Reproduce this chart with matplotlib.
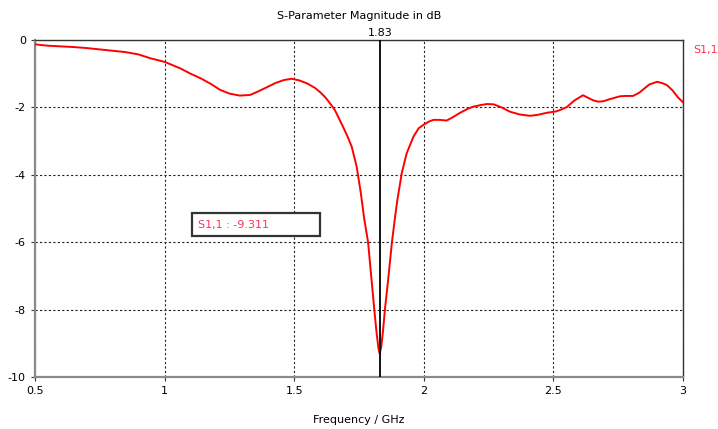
import matplotlib
matplotlib.use("Agg")
import matplotlib.pyplot as plt
from matplotlib.patches import Rectangle

plt.rcParams["axes.unicode_minus"] = False

# S1,1 magnitude
freq = [0.50, 0.55, 0.60, 0.65, 0.70, 0.75, 0.80, 0.85, 0.90, 0.944, 1.00,
        1.06, 1.10, 1.14, 1.18, 1.214, 1.25, 1.29, 1.33, 1.36, 1.395, 1.43,
        1.46, 1.49, 1.52, 1.55, 1.58, 1.60, 1.62, 1.638, 1.657, 1.688, 1.705,
        1.722, 1.741, 1.757, 1.77, 1.785, 1.797, 1.809, 1.818, 1.825, 1.83,
        1.836, 1.843, 1.850, 1.864, 1.877, 1.89, 1.898, 1.915, 1.934, 1.96,
        1.98, 1.998, 2.02, 2.037, 2.06, 2.088, 2.11, 2.14, 2.17, 2.19, 2.22,
        2.244, 2.27, 2.30, 2.333, 2.37, 2.41, 2.44, 2.475, 2.51, 2.525, 2.552,
        2.58, 2.614, 2.635, 2.653, 2.672, 2.691, 2.72, 2.757, 2.78, 2.807,
        2.83, 2.846, 2.87, 2.90, 2.92, 2.938, 2.96, 2.98, 3.00]
s11_db = [-0.13, -0.17, -0.19, -0.21, -0.24, -0.28, -0.32, -0.36, -0.43, -0.54,
          -0.65, -0.84, -1.00, -1.14, -1.31, -1.48, -1.59, -1.65, -1.63, -1.53,
          -1.40, -1.27, -1.19, -1.15, -1.20, -1.29, -1.42, -1.55, -1.70, -1.88,
          -2.08, -2.57, -2.85, -3.17, -3.76, -4.54, -5.30, -6.00, -7.00, -8.00,
          -8.70, -9.15, -9.311, -9.10, -8.60, -8.00, -7.00, -6.00, -5.20, -4.75,
          -3.95, -3.36, -2.87, -2.62, -2.52, -2.42, -2.37, -2.37, -2.39, -2.30,
          -2.16, -2.04, -1.98, -1.93, -1.90, -1.91, -2.00, -2.13, -2.21, -2.25,
          -2.22, -2.16, -2.12, -2.08, -1.99, -1.80, -1.64, -1.72, -1.79, -1.83,
          -1.82, -1.75, -1.67, -1.66, -1.66, -1.57, -1.47, -1.32, -1.24, -1.28,
          -1.34, -1.50, -1.70, -1.85]

marker_freq = 1.83
marker_value = -9.311
xticks = [0.5, 1, 1.5, 2, 2.5, 3]
xtick_labels = ["0.5", "1", "1.5", "2", "2.5", "3"]
yticks = [0, -2, -4, -6, -8, -10]

fig = plt.figure(figsize=(7.18, 4.29), dpi=100)
ax = fig.add_axes([0.0487, 0.1212, 0.9026, 0.7856])

ax.plot(freq, s11_db, color="#ff0000", lw=1.4, zorder=3)
ax.axvline(marker_freq, color="black", lw=1.3, zorder=4)

ax.set_xlim(0.5, 3)
ax.set_ylim(-10, 0)
ax.set_xticks(xticks)
ax.set_xticklabels(xtick_labels)
ax.set_yticks(yticks)
ax.grid(True, color="#222222", linestyle=(0, (2, 2)), lw=0.8)
ax.tick_params(labelsize=8, length=3, width=0.8, colors="#333333",
               labelcolor="black")

for side in ("left", "bottom"):
    ax.spines[side].set_color("#8a8a8a")
    ax.spines[side].set_linewidth(1.6)
for side in ("top", "right"):
    ax.spines[side].set_color("#333333")
    ax.spines[side].set_linewidth(1.0)

ax.set_title("S-Parameter Magnitude in dB", fontsize=8, pad=15)
ax.set_xlabel("Frequency / GHz", fontsize=8, labelpad=14)

ax.text(marker_freq, 0.05, f"{marker_freq:.2f}", fontsize=8,
        ha="center", va="bottom")
ax.text(1.015, 0.985, "S1,1", transform=ax.transAxes, fontsize=8,
        color="#ff3355", ha="left", va="top")

# marker readout box
ax.add_patch(Rectangle((0.242, 0.418), 0.198, 0.068, transform=ax.transAxes,
                       fc="white", ec="#333333", lw=1.6, zorder=5))
ax.text(0.252, 0.452, f"S1,1 : {marker_value:.3f}", transform=ax.transAxes,
        fontsize=8, color="#ff3355", ha="left", va="center", zorder=6)

fig.savefig("out.png", dpi=100)
